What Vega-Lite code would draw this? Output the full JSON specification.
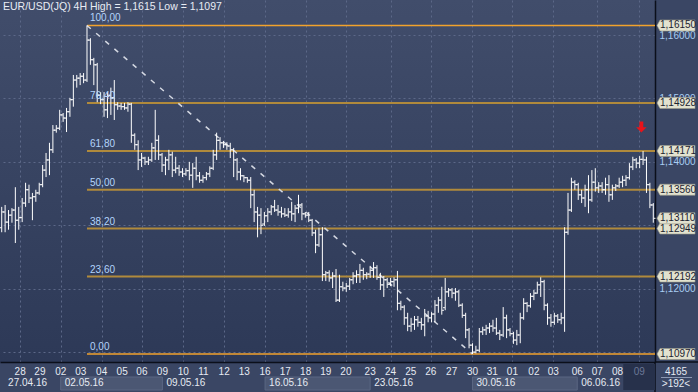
{
  "$schema": "https://vega.github.io/schema/vega-lite/v6.json",
  "width": 655,
  "height": 362,
  "autosize": "none",
  "padding": {"left": 0, "top": 0, "right": 43, "bottom": 30},
  "background": "#3a4664",
  "config": {
    "view": {"stroke": null, "fill": {"gradient": "linear", "x1": 0, "y1": 0, "x2": 0, "y2": 1, "stops": [{"offset": 0, "color": "#414d6b"}, {"offset": 1, "color": "#2d3957"}]}},
    "font": "Liberation Sans"
  },
  "title": {"text": "EUR/USD(JQ) 4H High = 1,1615 Low = 1,1097", "anchor": "start", "frame": "group", "offset": -12, "dx": 3, "fontSize": 10.5, "fontWeight": "normal", "color": "#e8ecf4", "font": "Liberation Sans"},
  "datasets": {
    "bars": [
      {"i":0,"o":1.1296,"h":1.1329,"l":1.1289,"c":1.1321},{"i":1,"o":1.1321,"h":1.1332,"l":1.1289,"c":1.1305},{"i":2,"o":1.1305,"h":1.1324,"l":1.1293,"c":1.1316},{"i":3,"o":1.1316,"h":1.1327,"l":1.1304,"c":1.1324},{"i":4,"o":1.1324,"h":1.136,"l":1.1272,"c":1.1308},{"i":5,"o":1.1308,"h":1.1329,"l":1.1293,"c":1.1312},{"i":6,"o":1.1312,"h":1.1343,"l":1.1305,"c":1.1335},{"i":7,"o":1.1335,"h":1.1367,"l":1.1329,"c":1.1356},{"i":8,"o":1.1356,"h":1.1364,"l":1.1335,"c":1.1343},{"i":9,"o":1.1343,"h":1.1351,"l":1.1308,"c":1.1345},
      {"i":10,"o":1.1345,"h":1.1356,"l":1.1337,"c":1.1351},{"i":11,"o":1.1351,"h":1.1367,"l":1.1348,"c":1.1364},{"i":12,"o":1.1364,"h":1.1395,"l":1.136,"c":1.1387},{"i":13,"o":1.1387,"h":1.1414,"l":1.1376,"c":1.1403},{"i":14,"o":1.1403,"h":1.143,"l":1.1379,"c":1.1419},{"i":15,"o":1.1419,"h":1.1458,"l":1.1414,"c":1.145},{"i":16,"o":1.145,"h":1.1458,"l":1.1446,"c":1.1453},{"i":17,"o":1.1453,"h":1.1482,"l":1.145,"c":1.1474},{"i":18,"o":1.1474,"h":1.1477,"l":1.1463,"c":1.1469},{"i":19,"o":1.1469,"h":1.1485,"l":1.1447,"c":1.1479},
      {"i":20,"o":1.1479,"h":1.1501,"l":1.1471,"c":1.1498},{"i":21,"o":1.1498,"h":1.1537,"l":1.1487,"c":1.1529},{"i":22,"o":1.1529,"h":1.1537,"l":1.1517,"c":1.1532},{"i":23,"o":1.1532,"h":1.154,"l":1.1521,"c":1.1535},{"i":24,"o":1.1535,"h":1.154,"l":1.1524,"c":1.1529},{"i":25,"o":1.1529,"h":1.1615,"l":1.1526,"c":1.1592},{"i":26,"o":1.1592,"h":1.1595,"l":1.1553,"c":1.1561},{"i":27,"o":1.1561,"h":1.1564,"l":1.1521,"c":1.1553},{"i":28,"o":1.1553,"h":1.1556,"l":1.1494,"c":1.1505},{"i":29,"o":1.1505,"h":1.151,"l":1.1491,"c":1.1498},
      {"i":30,"o":1.1498,"h":1.151,"l":1.1471,"c":1.1482},{"i":31,"o":1.1482,"h":1.151,"l":1.1469,"c":1.1505},{"i":32,"o":1.1505,"h":1.1517,"l":1.1474,"c":1.1501},{"i":33,"o":1.1501,"h":1.1529,"l":1.1466,"c":1.149},{"i":34,"o":1.149,"h":1.1494,"l":1.1482,"c":1.1488},{"i":35,"o":1.1488,"h":1.1493,"l":1.1482,"c":1.1487},{"i":36,"o":1.1487,"h":1.1493,"l":1.1482,"c":1.1485},{"i":37,"o":1.1485,"h":1.1494,"l":1.1479,"c":1.1491},{"i":38,"o":1.1491,"h":1.1493,"l":1.143,"c":1.1442},{"i":39,"o":1.1442,"h":1.1445,"l":1.1419,"c":1.1427},
      {"i":40,"o":1.1427,"h":1.1434,"l":1.1387,"c":1.1403},{"i":41,"o":1.1403,"h":1.1414,"l":1.1392,"c":1.1406},{"i":42,"o":1.1406,"h":1.1408,"l":1.1395,"c":1.14},{"i":43,"o":1.14,"h":1.1408,"l":1.1395,"c":1.1403},{"i":44,"o":1.1403,"h":1.143,"l":1.14,"c":1.1422},{"i":45,"o":1.1422,"h":1.1482,"l":1.1403,"c":1.1434},{"i":46,"o":1.1434,"h":1.1442,"l":1.1403,"c":1.1411},{"i":47,"o":1.1411,"h":1.1414,"l":1.1384,"c":1.1395},{"i":48,"o":1.1395,"h":1.1408,"l":1.1379,"c":1.1403},{"i":49,"o":1.1403,"h":1.1419,"l":1.1387,"c":1.1411},
      {"i":50,"o":1.1411,"h":1.1416,"l":1.1376,"c":1.1387},{"i":51,"o":1.1387,"h":1.1408,"l":1.1382,"c":1.139},{"i":52,"o":1.139,"h":1.1395,"l":1.1378,"c":1.1384},{"i":53,"o":1.1384,"h":1.139,"l":1.1376,"c":1.1381},{"i":54,"o":1.1381,"h":1.139,"l":1.1378,"c":1.1386},{"i":55,"o":1.1386,"h":1.14,"l":1.1371,"c":1.1379},{"i":56,"o":1.1379,"h":1.1398,"l":1.1359,"c":1.139},{"i":57,"o":1.139,"h":1.1408,"l":1.1371,"c":1.1378},{"i":58,"o":1.1378,"h":1.1384,"l":1.1367,"c":1.1371},{"i":59,"o":1.1371,"h":1.1379,"l":1.1367,"c":1.1375},
      {"i":60,"o":1.1375,"h":1.1384,"l":1.1371,"c":1.1381},{"i":61,"o":1.1381,"h":1.1393,"l":1.1376,"c":1.139},{"i":62,"o":1.139,"h":1.1419,"l":1.1387,"c":1.1411},{"i":63,"o":1.1411,"h":1.1446,"l":1.1403,"c":1.1434},{"i":64,"o":1.1434,"h":1.1439,"l":1.1419,"c":1.143},{"i":65,"o":1.143,"h":1.1433,"l":1.1422,"c":1.1427},{"i":66,"o":1.1427,"h":1.1431,"l":1.1419,"c":1.1425},{"i":67,"o":1.1425,"h":1.143,"l":1.1406,"c":1.1419},{"i":68,"o":1.1419,"h":1.1422,"l":1.1376,"c":1.1403},{"i":69,"o":1.1403,"h":1.1406,"l":1.1371,"c":1.1384},
      {"i":70,"o":1.1384,"h":1.139,"l":1.1371,"c":1.1378},{"i":71,"o":1.1378,"h":1.1379,"l":1.1368,"c":1.1375},{"i":72,"o":1.1375,"h":1.1376,"l":1.1367,"c":1.1371},{"i":73,"o":1.1371,"h":1.1376,"l":1.1327,"c":1.1348},{"i":74,"o":1.1348,"h":1.1356,"l":1.1305,"c":1.1321},{"i":75,"o":1.1321,"h":1.1329,"l":1.1281,"c":1.1316},{"i":76,"o":1.1316,"h":1.1327,"l":1.1286,"c":1.13},{"i":77,"o":1.1302,"h":1.1321,"l":1.1299,"c":1.1315},{"i":78,"o":1.1315,"h":1.1327,"l":1.1305,"c":1.1321},{"i":79,"o":1.1321,"h":1.1332,"l":1.1316,"c":1.1329},
      {"i":80,"o":1.1329,"h":1.134,"l":1.1321,"c":1.1324},{"i":81,"o":1.1324,"h":1.1332,"l":1.1315,"c":1.1321},{"i":82,"o":1.1321,"h":1.1329,"l":1.1312,"c":1.1318},{"i":83,"o":1.1318,"h":1.1327,"l":1.1313,"c":1.1316},{"i":84,"o":1.1316,"h":1.1327,"l":1.1312,"c":1.1321},{"i":85,"o":1.1321,"h":1.1337,"l":1.1307,"c":1.1318},{"i":86,"o":1.1318,"h":1.1332,"l":1.1305,"c":1.1327},{"i":87,"o":1.1327,"h":1.1348,"l":1.1319,"c":1.1332},{"i":88,"o":1.1332,"h":1.1335,"l":1.1308,"c":1.1318},{"i":89,"o":1.1318,"h":1.1321,"l":1.1312,"c":1.1316},
      {"i":90,"o":1.1316,"h":1.1321,"l":1.1305,"c":1.1308},{"i":91,"o":1.1308,"h":1.131,"l":1.1283,"c":1.1288},{"i":92,"o":1.1288,"h":1.1293,"l":1.1256,"c":1.1269},{"i":93,"o":1.1269,"h":1.1296,"l":1.1266,"c":1.1285},{"i":94,"o":1.1285,"h":1.1297,"l":1.1212,"c":1.1222},{"i":95,"o":1.1222,"h":1.1228,"l":1.1212,"c":1.1225},{"i":96,"o":1.1225,"h":1.1229,"l":1.1211,"c":1.1217},{"i":97,"o":1.1217,"h":1.1226,"l":1.1201,"c":1.122},{"i":98,"o":1.122,"h":1.1231,"l":1.1179,"c":1.1182},{"i":99,"o":1.1182,"h":1.1222,"l":1.1179,"c":1.1203},
      {"i":100,"o":1.1203,"h":1.1211,"l":1.1196,"c":1.1201},{"i":101,"o":1.1201,"h":1.1209,"l":1.1195,"c":1.1204},{"i":102,"o":1.1204,"h":1.1217,"l":1.1198,"c":1.1214},{"i":103,"o":1.1214,"h":1.1226,"l":1.1207,"c":1.122},{"i":104,"o":1.122,"h":1.1229,"l":1.1209,"c":1.1222},{"i":105,"o":1.1222,"h":1.1239,"l":1.1209,"c":1.1229},{"i":106,"o":1.1229,"h":1.1233,"l":1.1214,"c":1.1222},{"i":107,"o":1.1222,"h":1.1226,"l":1.1215,"c":1.1223},{"i":108,"o":1.1223,"h":1.1236,"l":1.1217,"c":1.1229},{"i":109,"o":1.1229,"h":1.1242,"l":1.1217,"c":1.1233},
      {"i":110,"o":1.1233,"h":1.1237,"l":1.1214,"c":1.1218},{"i":111,"o":1.1218,"h":1.1225,"l":1.1198,"c":1.1206},{"i":112,"o":1.1206,"h":1.122,"l":1.1187,"c":1.1214},{"i":113,"o":1.1214,"h":1.1217,"l":1.1201,"c":1.1207},{"i":114,"o":1.1207,"h":1.1217,"l":1.1204,"c":1.1211},{"i":115,"o":1.1211,"h":1.1218,"l":1.1203,"c":1.1214},{"i":116,"o":1.1214,"h":1.1228,"l":1.1166,"c":1.1177},{"i":117,"o":1.1177,"h":1.1181,"l":1.1166,"c":1.1171},{"i":118,"o":1.1171,"h":1.1174,"l":1.1143,"c":1.1154},{"i":119,"o":1.1154,"h":1.1162,"l":1.1133,"c":1.1141},
      {"i":120,"o":1.1141,"h":1.1154,"l":1.1132,"c":1.1144},{"i":121,"o":1.1144,"h":1.1157,"l":1.1135,"c":1.1151},{"i":122,"o":1.1151,"h":1.1157,"l":1.114,"c":1.1147},{"i":123,"o":1.1147,"h":1.1154,"l":1.1135,"c":1.1143},{"i":124,"o":1.1143,"h":1.1168,"l":1.1125,"c":1.1157},{"i":125,"o":1.1157,"h":1.1165,"l":1.1147,"c":1.1154},{"i":126,"o":1.1154,"h":1.1163,"l":1.1147,"c":1.116},{"i":127,"o":1.116,"h":1.1182,"l":1.1147,"c":1.1174},{"i":128,"o":1.1174,"h":1.1187,"l":1.1162,"c":1.1182},{"i":129,"o":1.1182,"h":1.1203,"l":1.1159,"c":1.1166},
      {"i":130,"o":1.117,"h":1.1217,"l":1.1166,"c":1.1195},{"i":131,"o":1.1195,"h":1.1201,"l":1.1187,"c":1.1198},{"i":132,"o":1.1198,"h":1.1201,"l":1.1185,"c":1.1193},{"i":133,"o":1.1193,"h":1.1201,"l":1.1181,"c":1.1195},{"i":134,"o":1.1195,"h":1.1198,"l":1.1171,"c":1.1174},{"i":135,"o":1.1174,"h":1.1177,"l":1.1154,"c":1.1158},{"i":136,"o":1.1158,"h":1.1162,"l":1.1122,"c":1.1135},{"i":137,"o":1.1135,"h":1.1138,"l":1.1106,"c":1.1111},{"i":138,"o":1.1111,"h":1.1114,"l":1.1097,"c":1.11},{"i":139,"o":1.11,"h":1.111,"l":1.1098,"c":1.1103},
      {"i":140,"o":1.1103,"h":1.1138,"l":1.11,"c":1.1132},{"i":141,"o":1.1132,"h":1.114,"l":1.1127,"c":1.1135},{"i":142,"o":1.1135,"h":1.1143,"l":1.1127,"c":1.1138},{"i":143,"o":1.1138,"h":1.1146,"l":1.113,"c":1.1141},{"i":144,"o":1.1141,"h":1.1151,"l":1.1132,"c":1.1138},{"i":145,"o":1.1138,"h":1.1154,"l":1.1127,"c":1.113},{"i":146,"o":1.113,"h":1.1135,"l":1.1119,"c":1.1127},{"i":147,"o":1.1127,"h":1.1171,"l":1.1124,"c":1.1154},{"i":148,"o":1.1154,"h":1.1159,"l":1.1122,"c":1.1135},{"i":149,"o":1.1135,"h":1.1138,"l":1.1125,"c":1.1129},
      {"i":150,"o":1.1129,"h":1.1132,"l":1.1113,"c":1.1119},{"i":151,"o":1.1119,"h":1.1135,"l":1.1111,"c":1.1127},{"i":152,"o":1.1127,"h":1.1162,"l":1.1114,"c":1.1154},{"i":153,"o":1.1154,"h":1.1185,"l":1.1151,"c":1.1177},{"i":154,"o":1.1177,"h":1.1179,"l":1.1163,"c":1.1173},{"i":155,"o":1.1173,"h":1.1193,"l":1.117,"c":1.1188},{"i":156,"o":1.1188,"h":1.1198,"l":1.1182,"c":1.1193},{"i":157,"o":1.1193,"h":1.1211,"l":1.1192,"c":1.1206},{"i":158,"o":1.1206,"h":1.1218,"l":1.1187,"c":1.1211},{"i":159,"o":1.1211,"h":1.1214,"l":1.1166,"c":1.1174},
      {"i":160,"o":1.1174,"h":1.1177,"l":1.1143,"c":1.1154},{"i":161,"o":1.1154,"h":1.116,"l":1.114,"c":1.1147},{"i":162,"o":1.1147,"h":1.1162,"l":1.1143,"c":1.1157},{"i":163,"o":1.1157,"h":1.116,"l":1.1146,"c":1.1151},{"i":164,"o":1.1151,"h":1.1162,"l":1.1144,"c":1.1154},{"i":165,"o":1.1154,"h":1.1297,"l":1.1132,"c":1.1289},{"i":166,"o":1.1289,"h":1.1351,"l":1.1285,"c":1.1324},{"i":167,"o":1.1324,"h":1.1375,"l":1.1321,"c":1.1368},{"i":168,"o":1.1368,"h":1.1371,"l":1.1356,"c":1.1364},{"i":169,"o":1.1364,"h":1.1367,"l":1.134,"c":1.1348},
      {"i":170,"o":1.1348,"h":1.1356,"l":1.1335,"c":1.1343},{"i":171,"o":1.1343,"h":1.1364,"l":1.1329,"c":1.1356},{"i":172,"o":1.1356,"h":1.1379,"l":1.1319,"c":1.134},{"i":173,"o":1.134,"h":1.1387,"l":1.1337,"c":1.1368},{"i":174,"o":1.1368,"h":1.139,"l":1.1353,"c":1.1359},{"i":175,"o":1.1359,"h":1.1368,"l":1.1351,"c":1.1362},{"i":176,"o":1.1362,"h":1.1368,"l":1.1351,"c":1.1356},{"i":177,"o":1.1356,"h":1.1375,"l":1.1348,"c":1.1364},{"i":178,"o":1.1364,"h":1.1379,"l":1.1337,"c":1.1348},{"i":179,"o":1.1348,"h":1.1364,"l":1.134,"c":1.1359},
      {"i":180,"o":1.1359,"h":1.1365,"l":1.1354,"c":1.1362},{"i":181,"o":1.1362,"h":1.1375,"l":1.1359,"c":1.1368},{"i":182,"o":1.1368,"h":1.1378,"l":1.136,"c":1.1371},{"i":183,"o":1.1371,"h":1.1379,"l":1.1362,"c":1.1375},{"i":184,"o":1.1375,"h":1.1398,"l":1.1372,"c":1.1392},{"i":185,"o":1.1392,"h":1.1408,"l":1.1387,"c":1.1403},{"i":186,"o":1.1403,"h":1.1406,"l":1.139,"c":1.1398},{"i":187,"o":1.1398,"h":1.1409,"l":1.139,"c":1.1404},{"i":188,"o":1.1404,"h":1.1417,"l":1.1395,"c":1.1403},{"i":189,"o":1.1403,"h":1.1408,"l":1.1351,"c":1.1364},
      {"i":190,"o":1.1364,"h":1.1367,"l":1.1327,"c":1.1332},{"i":191,"o":1.1332,"h":1.1335,"l":1.1304,"c":1.1311}
    ],
    "fib": [
      {"lv": "100,00", "p": 1.1615, "kind": "edge", "x0": 25, "x1": 191.5},
      {"lv": "76,40", "p": 1.14928, "kind": "inner", "x0": 25, "x1": 191.5},
      {"lv": "61,80", "p": 1.14171, "kind": "inner", "x0": 25, "x1": 191.5},
      {"lv": "50,00", "p": 1.1356, "kind": "inner", "x0": 25, "x1": 191.5},
      {"lv": "38,20", "p": 1.12949, "kind": "inner", "x0": 25, "x1": 191.5},
      {"lv": "23,60", "p": 1.12192, "kind": "inner", "x0": 25, "x1": 191.5},
      {"lv": "0,00", "p": 1.1097, "kind": "edge", "x0": 25, "x1": 191.5}
    ],
    "trend": [{"i": 25, "p": 1.1615}, {"i": 138, "p": 1.1097}],
    "flags": [
      {"p": 1.1615, "t": "1,16150"}, {"p": 1.14928, "t": "1,14928"}, {"p": 1.14171, "t": "1,14171"}, {"p": 1.1356, "t": "1,13560"},
      {"p": 1.12949, "t": "1,12949"}, {"p": 1.1311, "t": "1,13110"}, {"p": 1.12192, "t": "1,12192"}, {"p": 1.1097, "t": "1,10970"}
    ],
    "signal": [{"i": 187.5, "p": 1.1455}],
    "days": [
      {"x": 5.4, "d": "28", "cur": false}, {"x": 11.2, "d": "29", "cur": false}, {"x": 17.3, "d": "02", "cur": false}, {"x": 23.2, "d": "03", "cur": false},
      {"x": 29.3, "d": "04", "cur": false}, {"x": 35.3, "d": "05", "cur": false}, {"x": 41.1, "d": "06", "cur": false}, {"x": 47.1, "d": "09", "cur": false},
      {"x": 53.2, "d": "10", "cur": false}, {"x": 59.1, "d": "11", "cur": false}, {"x": 65.2, "d": "12", "cur": false}, {"x": 71.1, "d": "13", "cur": false},
      {"x": 77.2, "d": "16", "cur": false}, {"x": 83.1, "d": "17", "cur": false}, {"x": 89.1, "d": "18", "cur": false}, {"x": 95.0, "d": "19", "cur": false},
      {"x": 100.9, "d": "20", "cur": false}, {"x": 108.0, "d": "23", "cur": false}, {"x": 114.0, "d": "24", "cur": false}, {"x": 119.9, "d": "25", "cur": false},
      {"x": 125.8, "d": "26", "cur": false}, {"x": 131.9, "d": "27", "cur": false}, {"x": 138.0, "d": "30", "cur": false}, {"x": 143.8, "d": "31", "cur": false},
      {"x": 149.7, "d": "01", "cur": false}, {"x": 156.0, "d": "02", "cur": false}, {"x": 161.7, "d": "03", "cur": false}, {"x": 168.7, "d": "06", "cur": false},
      {"x": 174.6, "d": "07", "cur": false}, {"x": 180.5, "d": "08", "cur": false}, {"x": 186.9, "d": "09", "cur": true}
    ],
    "weeks": [
      {"lx": 0.7, "w": "27.04.16"}, {"lx": 17.3, "w": "02.05.16"}, {"lx": 47.1, "w": "09.05.16"}, {"lx": 77.2, "w": "16.05.16"},
      {"lx": 108.0, "w": "23.05.16"}, {"lx": 138.0, "w": "30.05.16"}, {"lx": 168.7, "w": "06.06.16"}
    ],
    "boxes": [{"s": 17.3, "e": 47.1}, {"s": 77.2, "e": 108.0}, {"s": 138.0, "e": 168.7}],
    "curbox": [{"s": 182.2, "e": 191.5}],
    "info": [{"t": "4165", "row": 1}, {"t": ">192<", "row": 2}]
  },
  "layer": [
    {
      "data": {"name": "fib"},
      "transform": [{"filter": "datum.kind == 'inner'"}],
      "mark": {"type": "rule", "color": "#b08a3c", "strokeWidth": 2},
      "encoding": {
        "x": {"field": "x0", "type": "quantitative", "title": null,
          "scale": {"domain": [-0.5, 191.5], "nice": false, "zero": false},
          "axis": {"values": [5.4, 11.2, 17.3, 23.2, 29.3, 35.3, 41.1, 47.1, 53.2, 59.1, 65.2, 71.1, 77.2, 83.1, 89.1, 95.0, 100.9, 108.0, 114.0, 119.9, 125.8, 131.9, 138.0, 143.8, 149.7, 156.0, 161.7, 168.7, 174.6, 180.5, 186.9],
            "labels": false, "ticks": false, "grid": true, "gridColor": "#5c6888", "gridDash": [2, 3], "gridWidth": 1, "domain": true, "domainColor": "#0b0f1a", "domainWidth": 1.5, "title": null}},
        "x2": {"field": "x1"},
        "y": {"field": "p", "type": "quantitative", "title": null,
          "scale": {"domain": [1.10844, 1.16552], "nice": false, "zero": false},
          "axis": {"orient": "right", "values": [1.11, 1.115, 1.12, 1.125, 1.13, 1.135, 1.14, 1.145, 1.15, 1.155, 1.16],
            "labelExpr": "(datum.value == 1.11 || datum.value == 1.13 || datum.value == 1.135) ? '' : replace(format(datum.value, '.5f'), '.', ',')",
            "labelColor": "#a9cdf3", "labelFontSize": 10, "labelFont": "Liberation Sans", "labelPadding": 4, "ticks": false,
            "grid": true, "gridColor": "#5c6888", "gridDash": [2, 3], "gridWidth": 1, "domain": true, "domainColor": "#0b0f1a", "domainWidth": 1.5, "title": null}}
      }
    },
    {
      "data": {"name": "fib"},
      "transform": [{"filter": "datum.kind == 'edge'"}],
      "mark": {"type": "rule", "color": "#f2a22c", "strokeWidth": 1.4},
      "encoding": {
        "x": {"field": "x0", "type": "quantitative", "title": null},
        "x2": {"field": "x1"},
        "y": {"field": "p", "type": "quantitative", "title": null}
      }
    },
    {
      "data": {"name": "trend"},
      "mark": {"type": "line", "color": "#d4d8e2", "strokeWidth": 1.5, "strokeDash": [5, 7]},
      "encoding": {
        "x": {"field": "i", "type": "quantitative", "title": null},
        "y": {"field": "p", "type": "quantitative", "title": null}
      }
    },
    {
      "data": {"name": "bars"},
      "mark": {"type": "rule", "color": "#ffffff", "strokeWidth": 1},
      "encoding": {
        "x": {"field": "i", "type": "quantitative", "title": null},
        "y": {"field": "l", "type": "quantitative", "title": null},
        "y2": {"field": "h"}
      }
    },
    {
      "data": {"name": "bars"},
      "mark": {"type": "tick", "orient": "horizontal", "color": "#ffffff", "size": 2, "thickness": 1, "xOffset": -1.2, "opacity": 1},
      "encoding": {
        "x": {"field": "i", "type": "quantitative", "title": null},
        "y": {"field": "o", "type": "quantitative", "title": null}
      }
    },
    {
      "data": {"name": "bars"},
      "mark": {"type": "tick", "orient": "horizontal", "color": "#ffffff", "size": 2, "thickness": 1, "xOffset": 1.2, "opacity": 1},
      "encoding": {
        "x": {"field": "i", "type": "quantitative", "title": null},
        "y": {"field": "c", "type": "quantitative", "title": null}
      }
    },
    {
      "data": {"name": "fib"},
      "mark": {"type": "text", "align": "left", "baseline": "bottom", "dx": 3, "dy": -2, "fontSize": 10, "color": "#b3d4fb"},
      "encoding": {
        "x": {"field": "x0", "type": "quantitative", "title": null},
        "y": {"field": "p", "type": "quantitative", "title": null},
        "text": {"field": "lv"}
      }
    },
    {
      "data": {"name": "signal"},
      "mark": {"type": "point", "filled": true, "color": "#e8131a", "opacity": 1, "size": 121, "shape": "M -0.35 -1 L 0.35 -1 L 0.35 0.05 L 0.95 0.05 L 0 1 L -0.95 0.05 L -0.35 0.05 Z"},
      "encoding": {
        "x": {"field": "i", "type": "quantitative", "title": null},
        "y": {"field": "p", "type": "quantitative", "title": null}
      }
    },
    {
      "data": {"name": "curbox"},
      "mark": {"type": "rule", "color": "#0b0f1a", "strokeWidth": 1.5, "y2Offset": 30},
      "encoding": {
        "x": {"value": "width"},
        "y": {"value": "height"},
        "y2": {"value": "height"}
      }
    },
    {
      "data": {"name": "curbox"},
      "mark": {"type": "rule", "color": "#0b0f1a", "strokeWidth": 1.5, "x2Offset": 43},
      "encoding": {
        "x": {"value": "width"},
        "x2": {"value": "width"},
        "y": {"value": "height"}
      }
    },
    {
      "data": {"name": "curbox"},
      "mark": {"type": "rule", "color": "#8c98b2", "strokeWidth": 1, "xOffset": 6, "x2Offset": 37, "yOffset": 15.5},
      "encoding": {
        "x": {"value": "width"},
        "x2": {"value": "width"},
        "y": {"value": "height"}
      }
    },
    {
      "data": {"name": "flags"},
      "mark": {"type": "point", "filled": true, "fill": "#e2e2cf", "stroke": "#9a9a88", "strokeWidth": 0.6, "opacity": 1, "size": 1444, "xOffset": 21, "shape": "M -1 0 L -0.84 -0.29 L 1 -0.29 L 1 0.29 L -0.84 0.29 Z"},
      "encoding": {
        "x": {"value": "width"},
        "y": {"field": "p", "type": "quantitative", "title": null}
      }
    },
    {
      "data": {"name": "flags"},
      "mark": {"type": "text", "align": "left", "baseline": "middle", "dx": 5, "fontSize": 10, "color": "#1c2230"},
      "encoding": {
        "x": {"value": "width"},
        "y": {"field": "p", "type": "quantitative", "title": null},
        "text": {"field": "t"}
      }
    },
    {
      "data": {"name": "boxes"},
      "mark": {"type": "rect", "fill": "#4b5773", "stroke": "#5b6783", "strokeWidth": 1, "yOffset": 15, "y2Offset": 28},
      "encoding": {
        "x": {"field": "s", "type": "quantitative", "title": null},
        "x2": {"field": "e"},
        "y": {"value": "height"},
        "y2": {"value": "height"}
      }
    },
    {
      "data": {"name": "curbox"},
      "mark": {"type": "rect", "fill": "#27314b", "yOffset": 2, "y2Offset": 28},
      "encoding": {
        "x": {"field": "s", "type": "quantitative", "title": null},
        "x2": {"field": "e"},
        "y": {"value": "height"},
        "y2": {"value": "height"}
      }
    },
    {
      "data": {"name": "days"},
      "mark": {"type": "text", "align": "center", "baseline": "middle", "yOffset": 9.5, "fontSize": 10},
      "encoding": {
        "x": {"field": "x", "type": "quantitative", "title": null},
        "y": {"value": "height"},
        "text": {"field": "d"},
        "color": {"condition": {"test": "datum.cur", "value": "#6b7897"}, "value": "#e6eaf2"}
      }
    },
    {
      "data": {"name": "weeks"},
      "mark": {"type": "text", "align": "left", "baseline": "middle", "yOffset": 21, "dx": 4, "fontSize": 10, "color": "#e6eaf2"},
      "encoding": {
        "x": {"field": "lx", "type": "quantitative", "title": null},
        "y": {"value": "height"},
        "text": {"field": "w"}
      }
    },
    {
      "data": {"name": "info"},
      "mark": {"type": "text", "align": "center", "baseline": "middle", "xOffset": 21, "fontSize": 10, "color": "#e6eaf2"},
      "encoding": {
        "x": {"value": "width"},
        "y": {"value": "height"},
        "yOffset": {"field": "row", "type": "quantitative", "scale": {"domain": [1, 2], "range": [9.5, 21.5]}, "legend": null},
        "text": {"field": "t"}
      }
    }
  ]
}
